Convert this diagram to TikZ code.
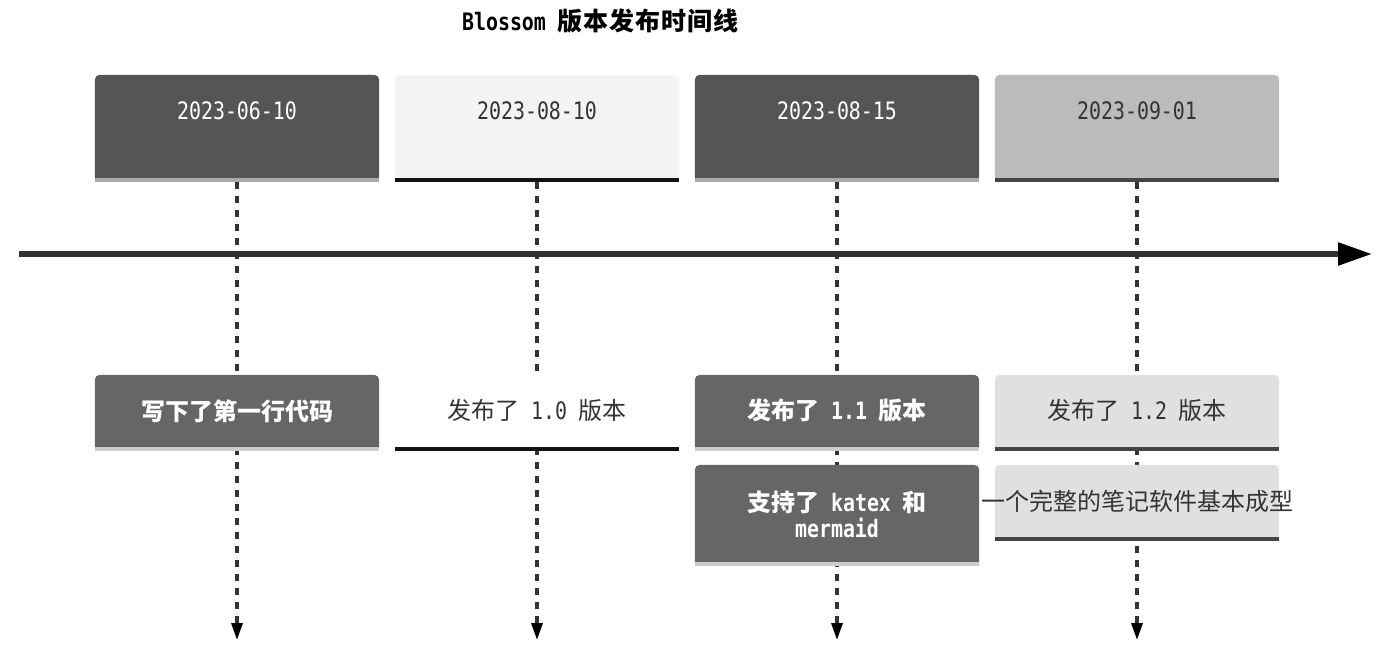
\documentclass[tikz,border=0pt]{standalone}
\usepackage{fontspec}
\newfontfamily\mono[FakeStretch=0.83]{DejaVu Sans Mono}
\newfontfamily\cjk{Noto Sans CJK SC}
\usetikzlibrary{arrows.meta}
\pgfdeclarelayer{bg}\pgfsetlayers{bg,main}
\definecolor{dk}{HTML}{555555}
\definecolor{md}{HTML}{666666}
\definecolor{lt}{HTML}{F3F3F3}
\definecolor{gr}{HTML}{BBBBBB}
\definecolor{eg}{HTML}{E0E0E0}
\definecolor{txt}{HTML}{333333}
\definecolor{stripA}{HTML}{AAAAAA}
\definecolor{stripB}{HTML}{CCCCCC}
\definecolor{stripC}{HTML}{444444}
\definecolor{ln}{HTML}{333333}
\newcommand\M[1]{{\mono #1}}
\newcommand\C[1]{{\cjk #1}}
\newcommand\boxfill[3]{%
  \fill[#2] ([yshift=4pt]#1.south west) [rounded corners=5pt] -- (#1.north west) -- (#1.north east) [sharp corners] -- ([yshift=4pt]#1.south east) -- cycle;
  \fill[#3] (#1.south west) rectangle ([yshift=4pt]#1.south east);}
\tikzset{
  boxnode/.style={minimum width=284pt, inner sep=0pt, draw=none},
  dline/.style={line width=3.2pt, ln, dash pattern=on 7pt off 7pt, -{Triangle[length=17pt,width=11pt,color=black]}},
  datetxt/.style={font=\mono\fontsize{24}{28}\selectfont, inner sep=0pt},
  evtxt/.style={font=\fontsize{24}{26}\selectfont, inner sep=0pt, align=center},
}
\begin{document}
\begin{tikzpicture}[x=1pt,y=-1pt]
\useasboundingbox (0,0) rectangle (1391,657);
% date boxes
\node[boxnode, minimum height=107pt] (d1) at (237,128.5) {};
\node[boxnode, minimum height=107pt] (d2) at (537,128.5) {};
\node[boxnode, minimum height=107pt] (d3) at (837,128.5) {};
\node[boxnode, minimum height=107pt] (d4) at (1137,128.5) {};
% event boxes
\node[boxnode, minimum height=76pt] (e1) at (237,413) {};
\node[boxnode, minimum height=76pt] (e2) at (537,413) {};
\node[boxnode, minimum height=76pt] (e3) at (837,413) {};
\node[boxnode, minimum height=76pt] (e4) at (1137,413) {};
\node[boxnode, minimum height=101pt] (f3) at (837,515.5) {};
\node[boxnode, minimum height=76pt] (f4) at (1137,503) {};
% end points
\coordinate (z1) at (237,640);
\coordinate (z2) at (537,640);
\coordinate (z3) at (837,640);
\coordinate (z4) at (1137,640);
\coordinate (a0) at (19,254);
\coordinate (a1) at (1372,254);
\begin{pgfonlayer}{bg}
\fill[white] (0,0) rectangle (1391,657);
\draw[dline] (d1.south) -- (z1);
\draw[dline] (d2.south) -- (z2);
\draw[dline] (d3.south) -- (z3);
\draw[dline] (d4.south) -- (z4);
\draw[line width=5.5pt, ln, -{Triangle[length=34pt,width=22pt,color=black]}] (a0) -- (a1);
\end{pgfonlayer}
\boxfill{d1}{dk}{stripA}
\boxfill{d2}{lt}{black!93}
\boxfill{d3}{dk}{stripA}
\boxfill{d4}{gr}{stripC}
\boxfill{e1}{md}{stripB}
\boxfill{e2}{white}{black!93}
\boxfill{e3}{md}{stripB}
\boxfill{e4}{eg}{stripC}
\boxfill{f3}{md}{stripB}
\boxfill{f4}{eg}{stripC}
% title
\node[font=\bfseries\fontsize{24}{28}\selectfont, inner sep=0pt] (title) at (600.5,21)
  {\M{Blossom\ }{\cjk\fontsize{25}{28}\selectfont 版\kern1pt 本\kern1pt 发\kern1pt 布\kern1pt 时\kern1pt 间\kern1pt 线}};
% dates
\node[datetxt, white] (d1t) at ([yshift=-36pt]d1.north) {2023-06-10};
\node[datetxt, txt] (d2t) at ([yshift=-36pt]d2.north) {2023-08-10};
\node[datetxt, white] (d3t) at ([yshift=-36pt]d3.north) {2023-08-15};
\node[datetxt, txt] (d4t) at ([yshift=-36pt]d4.north) {2023-09-01};
% events
\node[evtxt, white, font=\bfseries\fontsize{24}{26}\selectfont] (e1t) at ([yshift=-36pt]e1.north) {\C{写下了第一行代码}};
\node[evtxt, txt] (e2t) at ([yshift=-36pt]e2.north) {\C{发布了}\M{\ 1.0\ }\C{版本}};
\node[evtxt, white, font=\bfseries\fontsize{24}{26}\selectfont] (e3t) at ([yshift=-36pt]e3.north) {\C{发布了}\M{\ 1.1\ }\C{版本}};
\node[evtxt, txt] (e4t) at ([yshift=-36pt]e4.north) {\C{发布了}\M{\ 1.2\ }\C{版本}};
\node[evtxt, white, font=\bfseries\fontsize{24}{26}\selectfont] (f3t) at ([yshift=-50pt]f3.north) {\C{支持了}\M{\ katex\ }\C{和}\\\M{mermaid}};
\node[evtxt, txt] (f4t) at ([yshift=-37pt]f4.north) {\C{一个完整的笔记软件基本成型}};
\end{tikzpicture}
\end{document}
